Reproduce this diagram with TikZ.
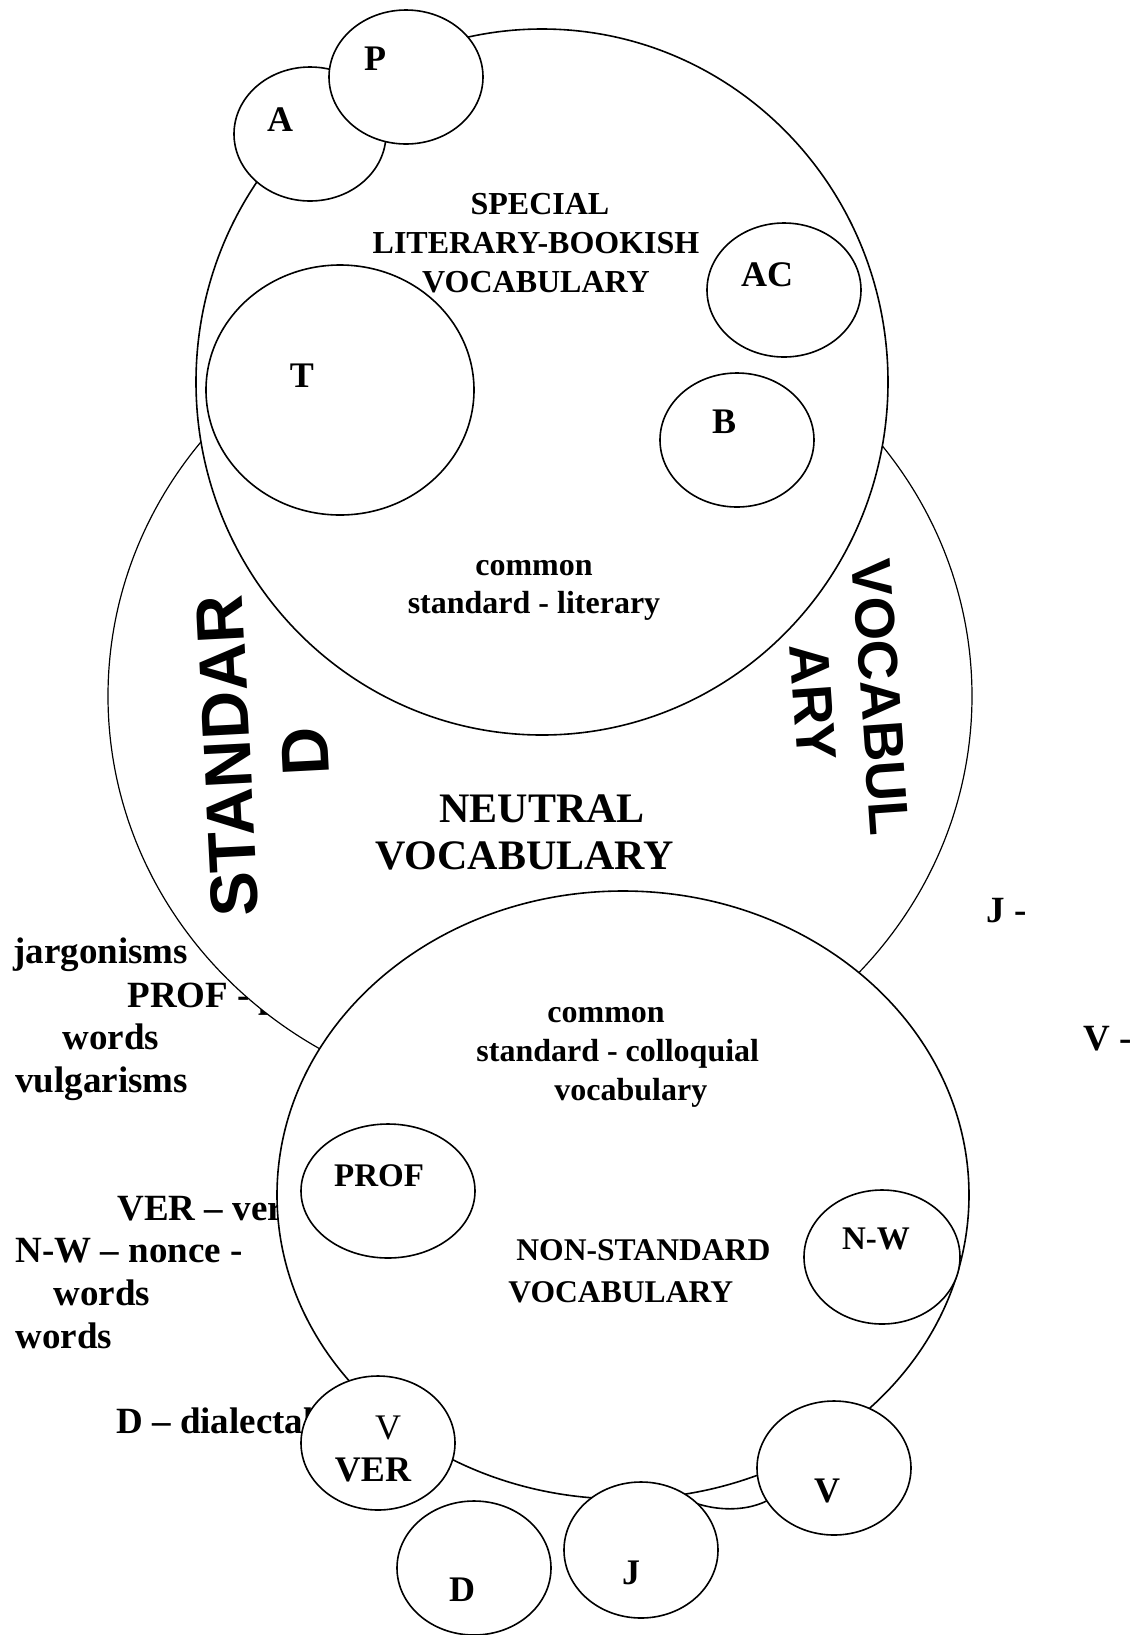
\documentclass[tikz,border=0pt]{standalone}
\usepackage{fontspec}
\setmainfont{Liberation Serif}
\setsansfont{Liberation Sans}

\begin{document}
\begin{tikzpicture}[x=0.5pt,y=-0.5pt,
    ring/.style={draw, fill=white, line width=0.8pt},
    side/.style={anchor=base west, inner sep=0pt, font=\bfseries\fontsize{18.5}{21}\selectfont},
    lbl/.style={inner sep=0pt, font=\bfseries\fontsize{18}{20}\selectfont},
    small/.style={inner sep=0pt, font=\bfseries\fontsize{16.5}{19}\selectfont},
    mid/.style={inner sep=0pt, align=center, font=\bfseries\fontsize{16}{19.5}\selectfont},
    big/.style={inner sep=0pt, align=center, font=\sffamily\bfseries}]
        \useasboundingbox (0,0) rectangle (1138,1635);

        % abbreviations, partly hidden by the circles
        \node [side](tJarg) at (13,963){jargonisms};
        \node [side](tProf) at (127,1007){PROF - p};
        \node [side](tWordsA) at (62,1049){words};
        \node [side](tVulg) at (15,1092){vulgarisms};
        \node [side](tVer) at (117,1220){VER – ver};
        \node [side](tNonce) at (15,1262){N-W – nonce -};
        \node [side](tWordsB) at (53,1305){words};
        \node [side](tWordsC) at (15,1348){words};
        \node [side](tDial) at (116,1433){D – dialectal};
        \node [side](tJ) at (986,922){J -};
        \node [side](tV) at (1083,1050){V -};

        % big circles
        \draw [ring, line width=0.6pt] (540,696) ellipse [x radius=432, y radius=410];
        \draw [ring] (542,382) ellipse [x radius=346, y radius=353];
        \draw [ring] (623,1195) ellipse [x radius=346, y radius=304];

        % small circles, top
        \draw [ring] (310,134) ellipse [x radius=76, y radius=67];
        \draw [ring] (406,77) ellipse [x radius=77, y radius=67];
        \draw [ring] (340,390) ellipse [x radius=134, y radius=125];
        \draw [ring] (784,290) ellipse [x radius=77, y radius=67];
        \draw [ring] (737,440) ellipse [x radius=77, y radius=67];

        % small circles, bottom
        \draw [line width=0.8pt] (675,1494) .. controls (708,1513) and (748,1513) .. (772,1498);
        \draw [ring] (388,1191) ellipse [x radius=87, y radius=67];
        \draw [ring] (882,1257) ellipse [x radius=78, y radius=67];
        \draw [ring] (378,1443) ellipse [x radius=77, y radius=67];
        \draw [ring] (474,1568) ellipse [x radius=77, y radius=67];
        \draw [ring] (641,1550) ellipse [x radius=77, y radius=68];
        \draw [ring] (834,1468) ellipse [x radius=77, y radius=67];

        % texts
        \node [lbl](lA) at (280,120){A};
        \node [lbl](lP) at (375,59){P};
        \node [lbl](lT) at (302,376){T};
        \node [lbl](lAC) at (767,275){AC};
        \node [lbl](lB) at (724,422){B};
        \node [mid](special) at (536,243){\hspace*{4pt}SPECIAL\\LITERARY-BOOKISH\\VOCABULARY};
        \node [mid, font=\bfseries\fontsize{16}{19}\selectfont](literary) at (534,590){common\\standard - literary};
        \node [mid, align=left, anchor=west, font=\bfseries\fontsize{21}{23.5}\selectfont](neutral) at (375,832){\hspace*{32pt}NEUTRAL\\VOCABULARY};
        \node [big, rotate=93, font=\sffamily\bfseries\fontsize{33.5}{39}\selectfont](standard) at (266,754){STANDAR\\D};
        \node [big, rotate=-86, font=\sffamily\bfseries\fontsize{28}{34}\selectfont](vocab) at (847,700){VOCABUL\\ARY};
        \node [mid, align=left, anchor=west](colloquial) at (476,1057){\hspace*{35.5pt}common\\standard - colloquial\\\hspace*{39pt}vocabulary};
        \node [mid, align=left, anchor=west, font=\bfseries\fontsize{15.8}{21}\selectfont](nonstd) at (508,1271){\hspace*{4pt}NON-STANDARD\\VOCABULARY};
        \node [small](lProf) at (379,1176){PROF};
        \node [small](lNw) at (876,1239){N-W};
        \node [lbl, font=\fontsize{18}{20}\selectfont](lVv) at (388,1428){V};
        \node [lbl](lVer) at (373,1470){VER};
        \node [lbl](lD) at (462,1590){D};
        \node [lbl](lJ) at (631,1573){J};
        \node [lbl](lV) at (827,1491){V};
      \end{tikzpicture}
\end{document}
